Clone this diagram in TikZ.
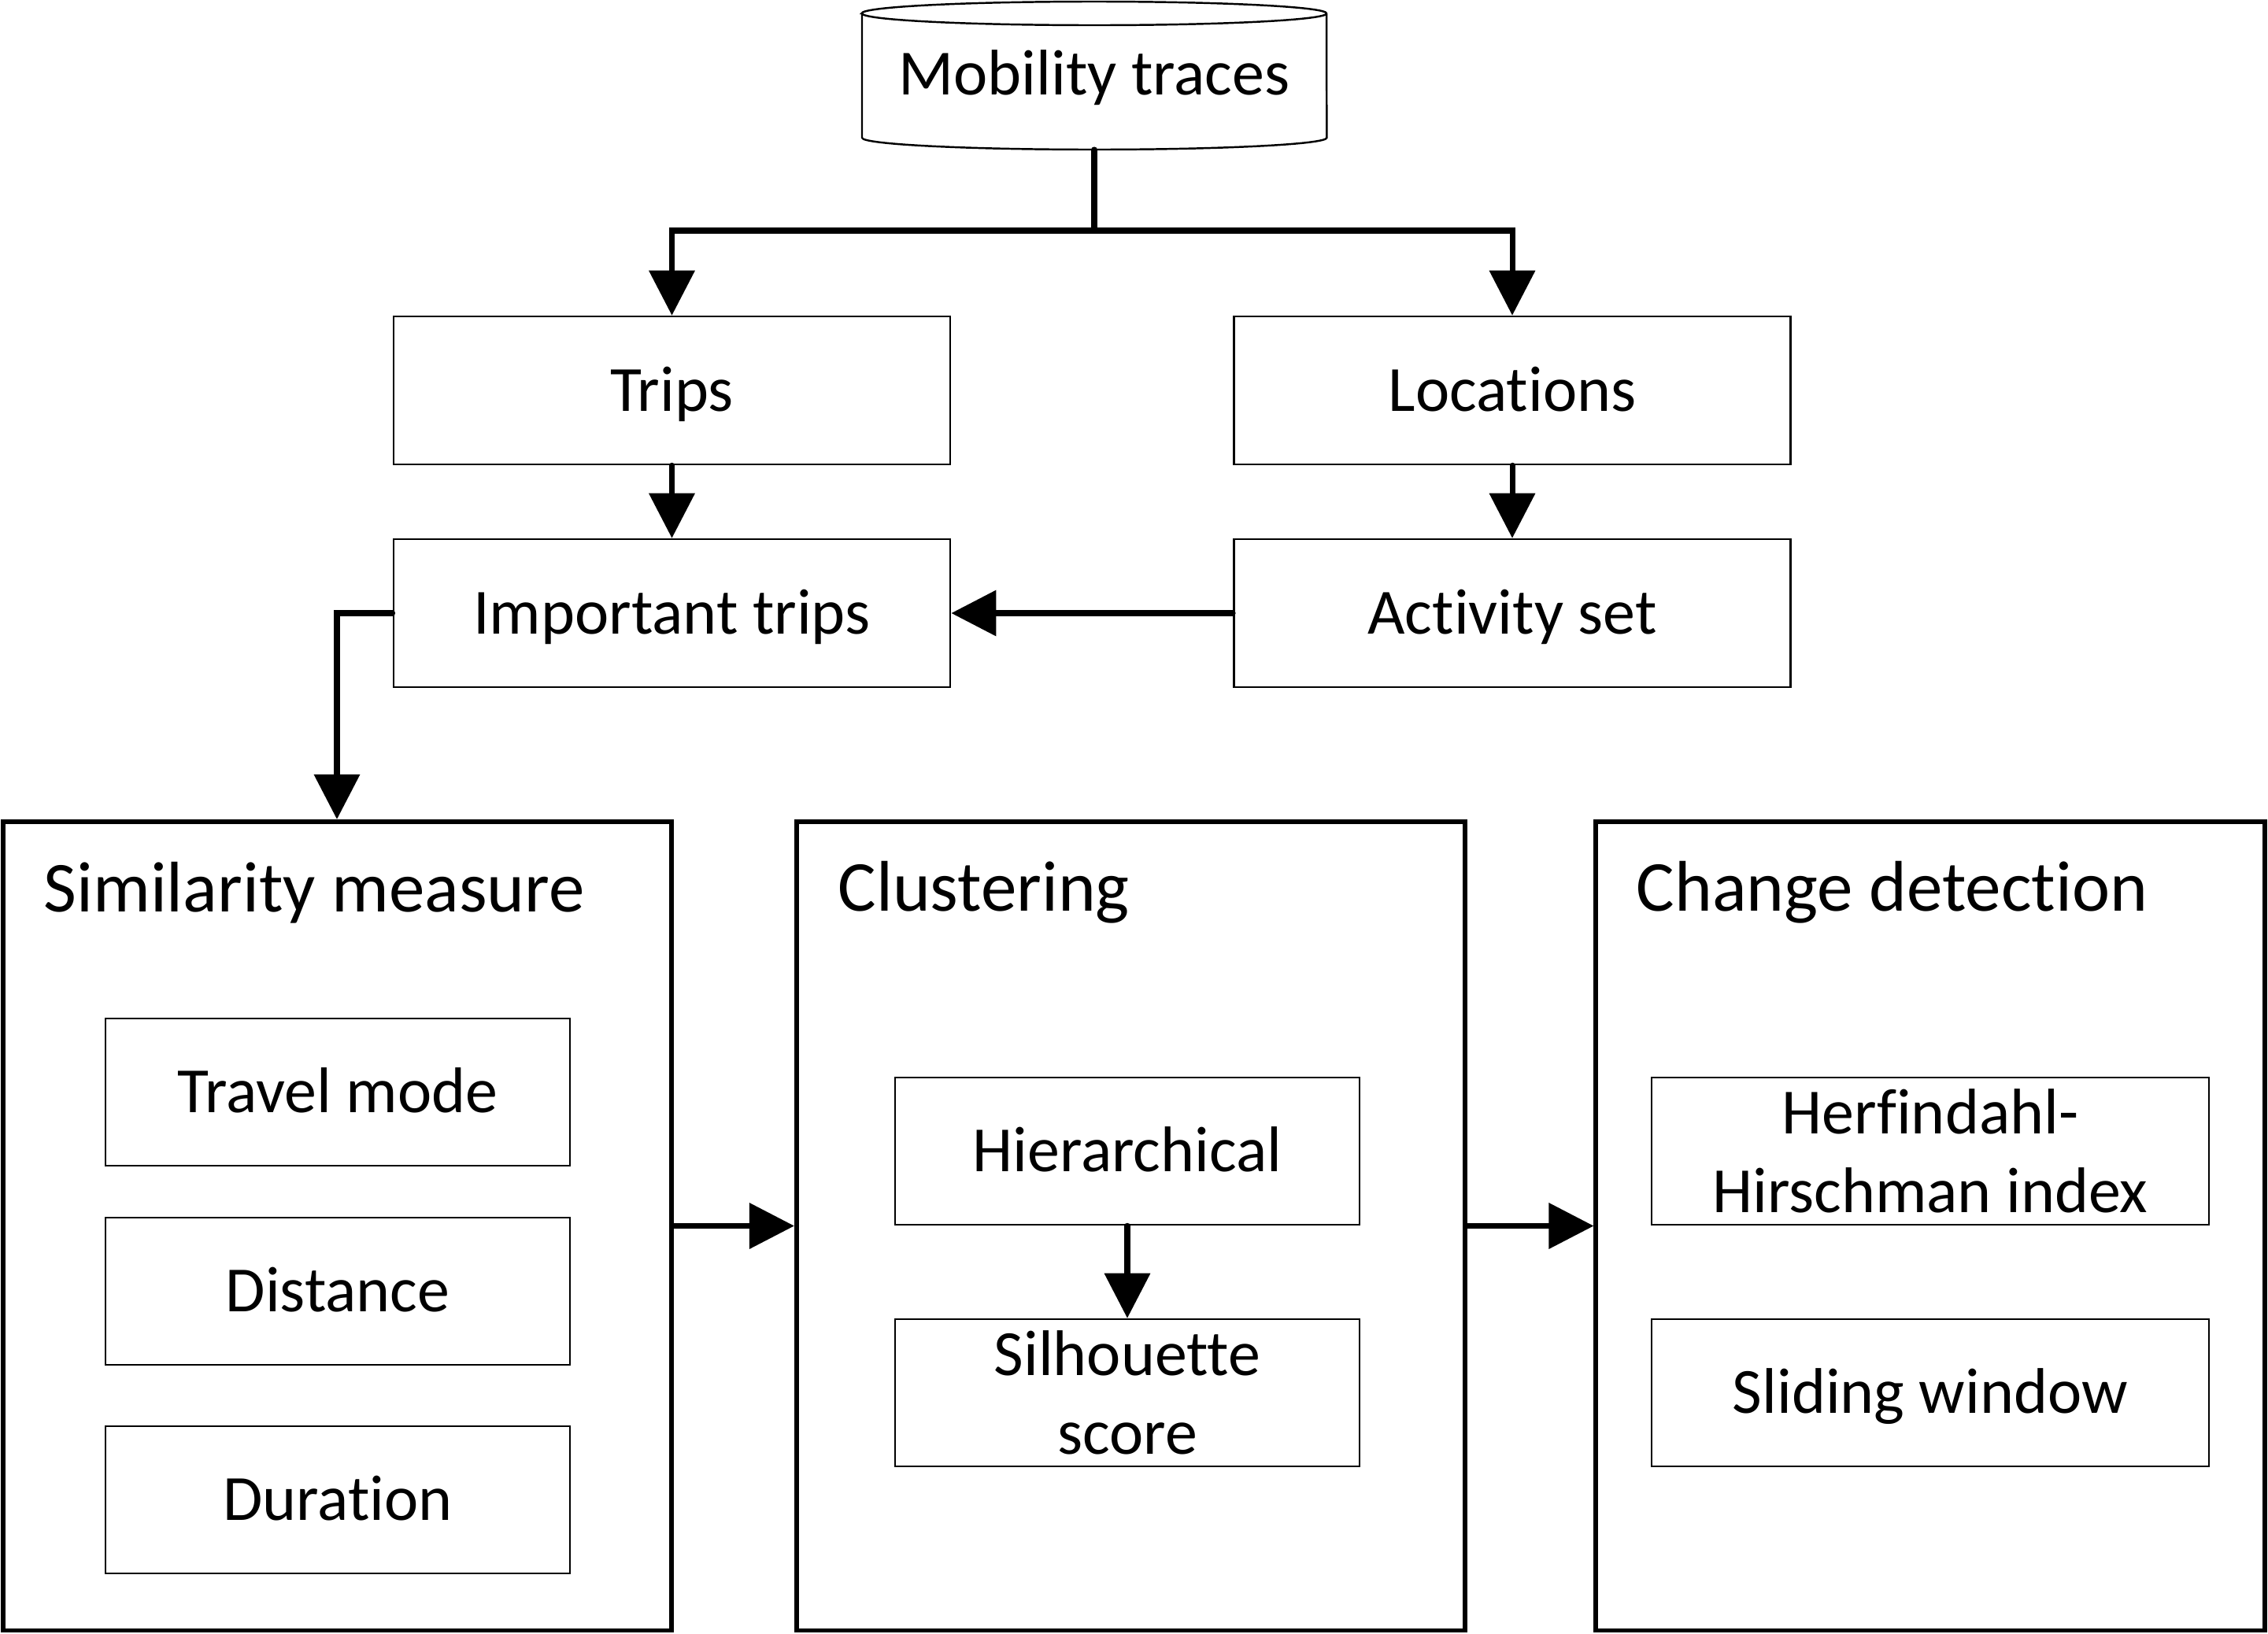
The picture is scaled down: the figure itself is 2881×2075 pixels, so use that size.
\documentclass[tikz,border=0pt]{standalone}
\usepackage{fontspec}
\setmainfont{Carlito}[Ligatures=CommonOff]
\usetikzlibrary{arrows.meta,calc}
\begin{document}
\begin{tikzpicture}[x=0.01cm,y=-0.01cm,
  txt/.style={font=\fontsize{23.3}{28.5}\selectfont},
  hd/.style={font=\fontsize{25.9}{31}\selectfont, anchor=west, inner sep=0},
  smallbox/.style={draw, line width=0.7pt, fill=white, minimum width=5.9cm, minimum height=1.87cm, inner sep=0, align=center, txt},
  oneline/.style={text height=19.6pt, text depth=4.7pt},
  topbox/.style={smallbox, oneline, minimum width=7.07cm, minimum height=1.88cm},
  bigbox/.style={draw, line width=1.6pt, minimum width=8.49cm, minimum height=10.27cm, inner sep=0},
  conn/.style={line width=2pt, line cap=round},
  arr/.style={conn, -{Triangle[length=0.57cm,width=0.57cm]}}]
\useasboundingbox (0,0) rectangle (2881,2075);
% cylinder
\draw[line width=0.7pt, fill=white] (1095,17) -- (1095,175)
  arc[start angle=180,end angle=360,x radius=2.95cm,y radius=0.15cm] -- (1685,17)
  arc[start angle=0,end angle=180,x radius=2.95cm,y radius=0.15cm] -- cycle;
\draw[line width=0.7pt] (1095,17) arc[start angle=180,end angle=360,x radius=2.95cm,y radius=0.15cm];
\node[txt, anchor=base, inner sep=0] (mt) at (1390,120) {Mobility traces};
% top boxes
\node[topbox] (trips) at (853.5,496) {Trips};
\node[topbox] (loc) at (1921,496) {Locations};
\node[topbox] (imp) at (853.5,779) {Important trips};
\node[topbox] (act) at (1921,779) {Activity set};
% big boxes
\node[bigbox] (sim) at (428.5,1557.5) {};
\node[bigbox] (clu) at (1436.5,1557.5) {};
\node[bigbox] (chg) at (2452,1557.5) {};
\node[hd] (simh) at (55,1134) {Similarity measure};
\node[hd] (cluh) at (1064,1134) {Clustering};
\node[hd] (chgh) at (2078,1134) {Change detection};
% inner boxes
\node[smallbox, oneline] (tm) at (429,1387.5) {Travel mode};
\node[smallbox, oneline] (dist) at (429,1640.5) {Distance};
\node[smallbox, oneline] (dur) at (429,1905.5) {Duration};
\node[smallbox, oneline] (hier) at (1432,1462.5) {Hierarchical};
\node[smallbox] (sil) at (1432,1769.5) {Silhouette\\score};
\node[smallbox, minimum width=7.08cm] (hhi) at (2452,1462.5) {Herfindahl-\\Hirschman index};
\node[smallbox, oneline, minimum width=7.08cm] (sw) at (2452,1769.5) {Sliding window};
% connectors
\coordinate (cylbot) at (1390,190);
\coordinate (split) at (1390,293);
\draw[conn] (cylbot) -- (split);
\draw[arr] (split) -| (trips.north);
\draw[arr] (split) -| (loc.north);
\draw[arr] (trips.south) -- (imp.north);
\draw[arr] (loc.south) -- (act.north);
\draw[arr] (act.west) -- (imp.east);
\coordinate (bend) at (428,779);
\draw[arr] (imp.west) -- (bend) -- (bend |- sim.north);
\draw[arr] (sim.east) -- (clu.west);
\draw[arr] (clu.east) -- (chg.west);
\draw[arr] (hier.south) -- (sil.north);
\end{tikzpicture}
\end{document}
